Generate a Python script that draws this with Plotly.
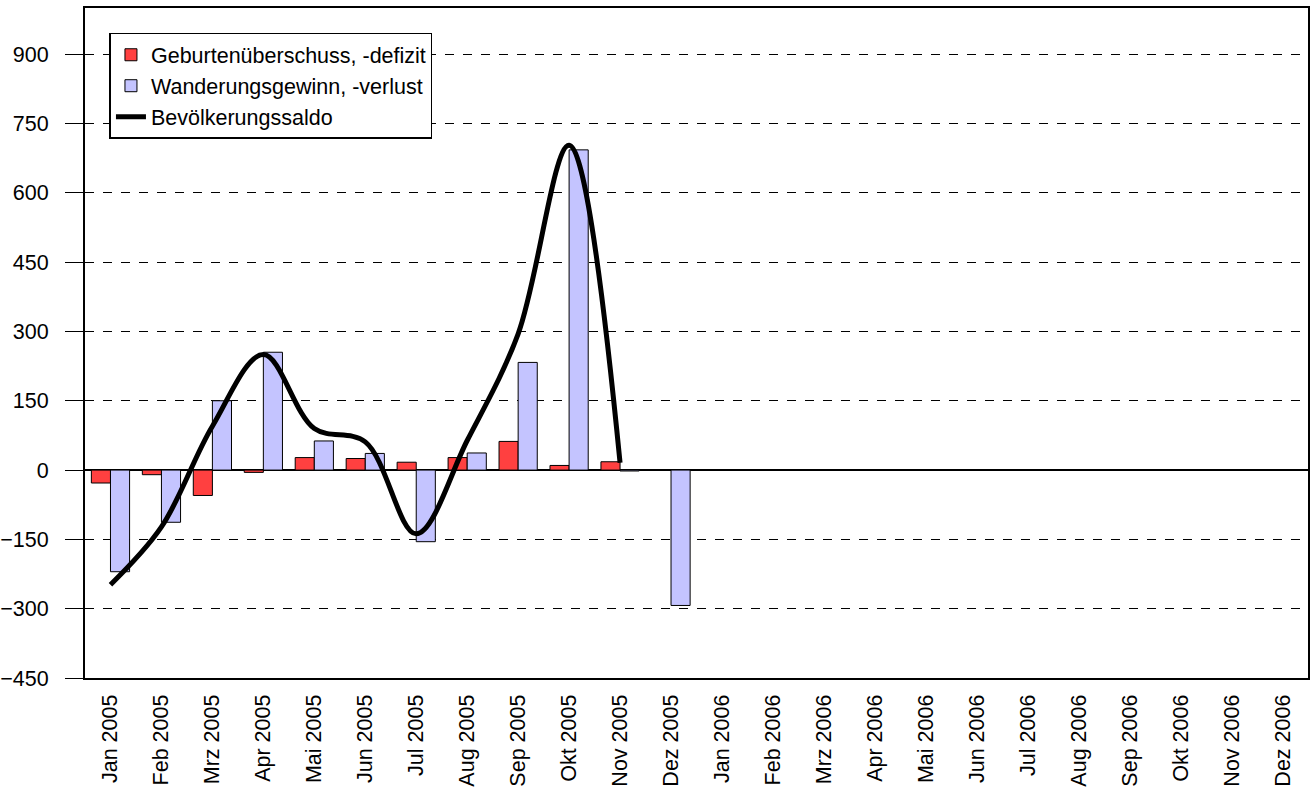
import plotly.graph_objects as go

# Monate (Kategorien)
months = [
    "Jan 2005", "Feb 2005", "Mrz 2005", "Apr 2005", "Mai 2005", "Jun 2005",
    "Jul 2005", "Aug 2005", "Sep 2005", "Okt 2005", "Nov 2005", "Dez 2005",
    "Jan 2006", "Feb 2006", "Mrz 2006", "Apr 2006", "Mai 2006", "Jun 2006",
    "Jul 2006", "Aug 2006", "Sep 2006", "Okt 2006", "Nov 2006", "Dez 2006",
]

# Geburtenüberschuss, -defizit
natural = [-28, -10, -55, -5, 27, 25, 17, 27, 62, 10, 18, None,
           None, None, None, None, None, None, None, None, None, None, None, None]

# Wanderungsgewinn, -verlust
migration = [-220, -113, 150, 255, 63, 36, -155, 37, 233, 693, -2, -293,
             None, None, None, None, None, None, None, None, None, None, None, None]

# Bevölkerungssaldo
saldo = [-248, -123, 95, 250, 90, 61, -138, 64, 295, 703, 16, None,
         None, None, None, None, None, None, None, None, None, None, None, None]

y_ticks = [-450, -300, -150, 0, 150, 300, 450, 600, 750, 900]

FONT = "Liberation Sans, Arial, sans-serif"
FS = 21.5

fig = go.Figure()
fig.add_trace(go.Bar(
    x=months, y=natural, name="Geburtenüberschuss, -defizit",
    marker=dict(color="#FF4040", line=dict(color="#000000", width=1)),
))
fig.add_trace(go.Bar(
    x=months, y=migration, name="Wanderungsgewinn, -verlust",
    marker=dict(color="#C4C4FF", line=dict(color="#000000", width=1)),
))
fig.add_trace(go.Scatter(
    x=months, y=saldo, name="Bevölkerungssaldo", mode="lines",
    line=dict(color="#000000", width=5, shape="spline", smoothing=1.0),
))

fig.update_layout(
    width=1311, height=789,
    barmode="group", bargap=0.25, bargroupgap=0,
    plot_bgcolor="#FFFFFF", paper_bgcolor="#FFFFFF",
    font=dict(family=FONT, size=FS, color="#000000"),
    margin=dict(l=85, r=3, t=8, b=111, pad=0),
    legend=dict(
        x=0.02, y=0.963, xanchor="left", yanchor="top",
        bgcolor="#FFFFFF", bordercolor="#000000", borderwidth=1.5,
        font=dict(size=FS), tracegroupgap=0, itemwidth=30,
    ),
)
fig.update_xaxes(
    tickangle=-90, showgrid=False, showline=True, mirror=True,
    linecolor="#000000", linewidth=2, ticks="", automargin=False,
    tickfont=dict(size=FS), ticklabelstandoff=6,
)
fig.update_yaxes(
    range=[-450, 1000], tickvals=y_ticks, showgrid=True,
    gridcolor="#000000", gridwidth=1, griddash="dash",
    zeroline=True, zerolinecolor="#000000", zerolinewidth=2,
    showline=True, mirror=True, linecolor="#000000", linewidth=2,
    ticks="outside", ticklen=18, tickcolor="#000000", automargin=False,
    ticklabelstandoff=12, tickfont=dict(size=FS),
)

# Seitenrand des Browsers entfernen, damit die Grafik bei (0,0) beginnt
fig.write_html(
    "out.html",
    config={"displayModeBar": False},
    post_script="document.body.style.margin='0';",
)
